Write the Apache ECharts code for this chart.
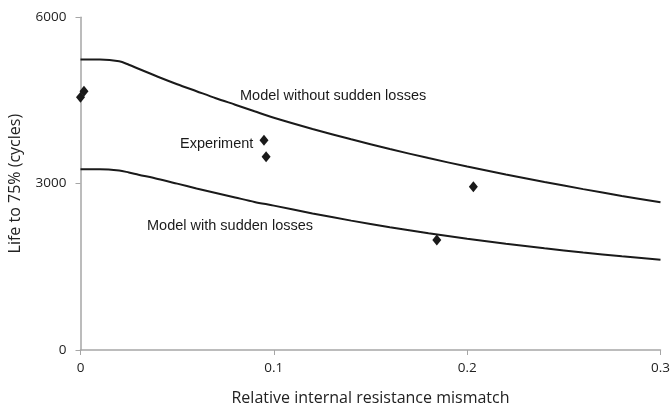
<!DOCTYPE html>
<html><head><meta charset="utf-8">
<script src="https://cdn.jsdelivr.net/npm/echarts@6/dist/echarts.min.js"></script>
<style>html,body{margin:0;padding:0;background:#fff}#c{width:671px;height:405px}</style>
</head><body><div id="c"></div>
<script>
// Model curves: x = relative internal resistance mismatch, y = life to 75% (cycles)
const modelX = [0, 0.01, 0.02, 0.025, 0.03, 0.04, 0.05, 0.06, 0.07, 0.08, 0.09, 0.1, 0.12, 0.14, 0.16, 0.18, 0.2, 0.22, 0.24, 0.26, 0.28, 0.3];
const withoutLosses = [5238, 5238, 5207, 5144, 5072, 4928, 4793, 4667, 4541, 4424, 4306, 4189, 3987, 3800, 3625, 3461, 3308, 3166, 3031, 2901, 2779, 2663];
const withLosses = [3261, 3261, 3238, 3202, 3162, 3085, 3000, 2914, 2832, 2751, 2670, 2604, 2463, 2333, 2214, 2106, 2007, 1917, 1834, 1759, 1690, 1627];
// Experiment points
const expX = [0, 0.0018, 0.0949, 0.096, 0.2032, 0.1843];
const expY = [4559, 4667, 3784, 3483, 2943, 1982];
const xTicks = [0, 0.1, 0.2, 0.3];
const yTicks = [0, 3000, 6000];

const zip = (a, b) => a.map((v, i) => [v, b[i]]);
const chart = echarts.init(document.getElementById('c'));
const axisCol = '#a6a6a6';
const tickFont = { fontFamily: 'Open Sans', fontSize: 13.5, color: '#222' };
chart.setOption({
  animation: false,
  grid: { left: 80.5, right: 10.5, top: 17.3, bottom: 55, containLabel: false, outerBoundsMode: 'none' },
  xAxis: {
    type: 'value', min: 0, max: 0.3, interval: 0.1,
    name: 'Relative internal resistance mismatch', nameLocation: 'middle', nameGap: 40,
    nameTextStyle: { fontFamily: 'Open Sans', fontSize: 16, color: '#222' },
    axisLine: { show: true, lineStyle: { color: axisCol, width: 1.5 } },
    axisTick: { show: true, length: 5, lineStyle: { color: axisCol } },
    splitLine: { show: false },
    axisLabel: Object.assign({ margin: 11, formatter: v => String(+v.toFixed(1)) }, tickFont)
  },
  yAxis: {
    type: 'value', min: 0, max: 6000, interval: 3000,
    name: 'Life to 75% (cycles)', nameLocation: 'middle', nameGap: 57, nameRotate: 90,
    nameTextStyle: { fontFamily: 'Open Sans', fontSize: 16, color: '#222' },
    axisLine: { show: true, lineStyle: { color: axisCol, width: 1.5 } },
    axisTick: { show: true, length: 5, lineStyle: { color: axisCol } },
    splitLine: { show: false },
    axisLabel: Object.assign({ margin: 14, formatter: v => String(v) }, tickFont)
  },
  series: [
    { type: 'line', data: zip(modelX, withoutLosses), smooth: 0.3, showSymbol: false,
      lineStyle: { color: '#1a1a1a', width: 2 } },
    { type: 'line', data: zip(modelX, withLosses), smooth: 0.3, showSymbol: false,
      lineStyle: { color: '#1a1a1a', width: 2 } },
    { type: 'scatter', data: zip(expX, expY), symbol: 'diamond', symbolSize: [9, 11],
      itemStyle: { color: '#1a1a1a', opacity: 1 } }
  ],
  graphic: [
    { type: 'text', left: 240, top: 88, style: { text: 'Model without sudden losses', font: '14.5px "Liberation Sans"', fill: '#1a1a1a' } },
    { type: 'text', left: 180, top: 136, style: { text: 'Experiment', font: '14.5px "Liberation Sans"', fill: '#1a1a1a' } },
    { type: 'text', left: 147, top: 218, style: { text: 'Model with sudden losses', font: '14.5px "Liberation Sans"', fill: '#1a1a1a' } }
  ]
});
</script></body></html>
